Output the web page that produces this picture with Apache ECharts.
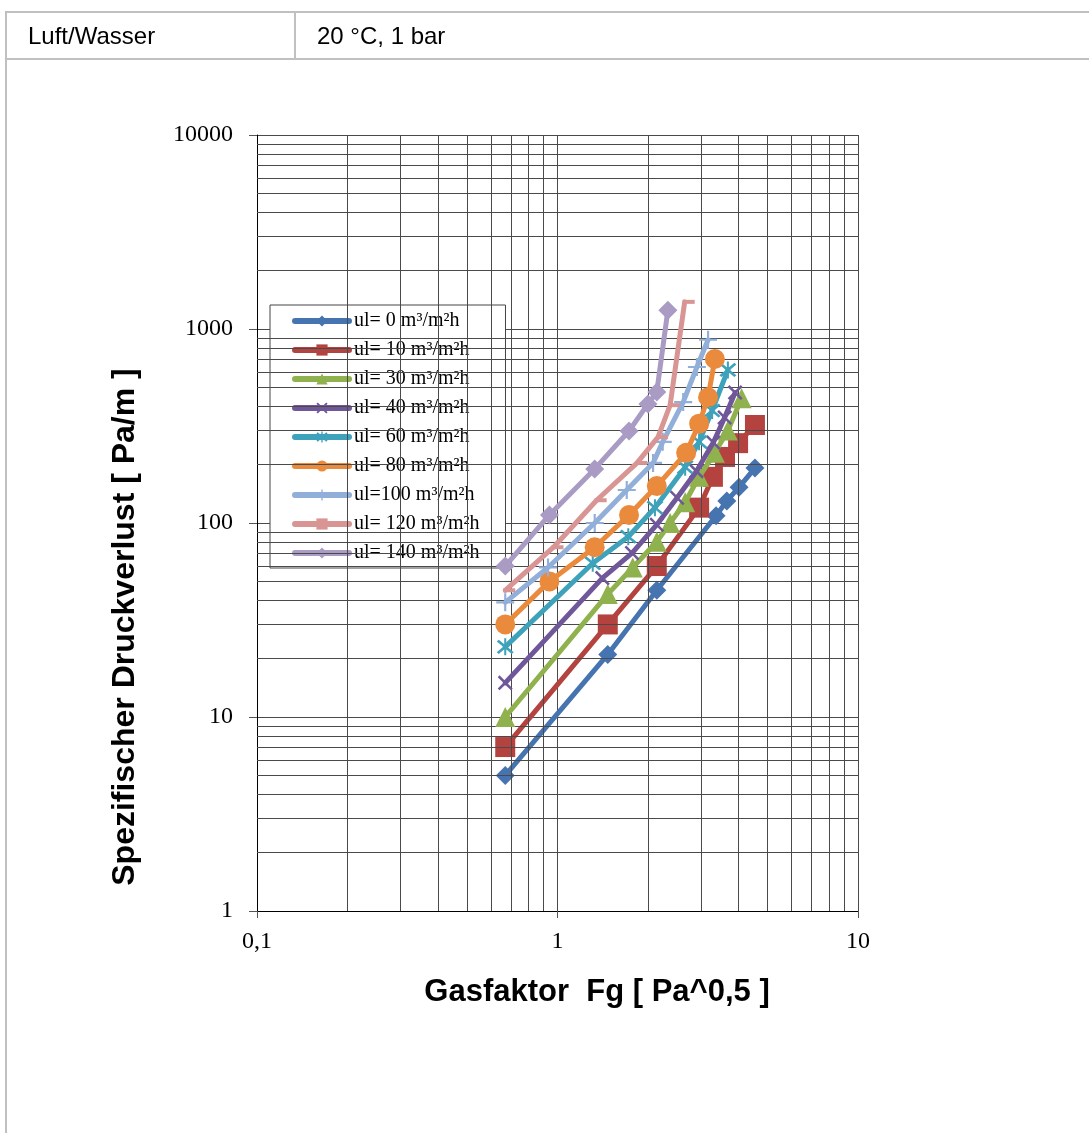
<!DOCTYPE html>
<html>
<head>
<meta charset="utf-8">
<script src="https://cdn.jsdelivr.net/npm/echarts@6/dist/echarts.min.js"></script>
<style>
  html, body { margin:0; padding:0; background:#fff; width:1089px; height:1133px; overflow:hidden; }
  #chart { position:absolute; left:0; top:0; width:1089px; height:1133px; }
  .hl { position:absolute; background:#c0c0c0; }
  .ht { position:absolute; font-family:"Liberation Sans", Arial, sans-serif; font-size:24px; color:#000; line-height:26px; }
</style>
</head>
<body>
<div id="chart"></div>
<div class="hl" style="left:5px; top:11px; width:1084px; height:2px;"></div>
<div class="hl" style="left:5px; top:58px; width:1084px; height:2px;"></div>
<div class="hl" style="left:5px; top:11px; width:2px; height:1122px;"></div>
<div class="hl" style="left:294px; top:11px; width:2px; height:49px;"></div>
<div class="ht" style="left:28px; top:23px;">Luft/Wasser</div>
<div class="ht" style="left:317px; top:23px;">20 °C, 1 bar</div>
<script>
// ---- data ----
const seriesNames = ['ul= 0 m³/m²h', 'ul= 10 m³/m²h', 'ul= 30 m³/m²h', 'ul= 40 m³/m²h', 'ul= 60 m³/m²h',
                     'ul= 80 m³/m²h', 'ul=100 m³/m²h', 'ul= 120 m³/m²h', 'ul= 140 m³/m²h'];
const fg_0   = [0.67, 1.47, 2.14, 3.37, 3.66, 4.02, 4.54];
const dp_0   = [5, 21, 45, 109, 130, 153, 192];
const fg_10  = [0.67, 1.47, 2.14, 2.96, 3.29, 3.61, 3.99, 4.54];
const dp_10  = [7, 30, 60, 120, 173, 219, 258, 320];
const fg_30  = [0.67, 1.47, 1.78, 2.14, 2.37, 2.66, 2.96, 3.34, 3.69, 4.1];
const dp_30  = [10, 43, 59, 80, 100, 128, 173, 230, 300, 440];
const fg_40  = [0.67, 1.41, 1.77, 2.14, 2.5, 2.9, 3.3, 3.6, 3.9];
const dp_40  = [15, 52, 70, 98, 135, 185, 260, 350, 470];
const fg_60  = [0.67, 1.31, 1.72, 2.11, 2.66, 2.96, 3.27, 3.69];
const dp_60  = [23, 62, 85, 120, 194, 262, 380, 615];
const fg_80  = [0.67, 0.94, 1.33, 1.73, 2.14, 2.68, 2.96, 3.17, 3.34];
const dp_80  = [30, 50, 75, 110, 155, 230, 325, 445, 700];
const fg_100 = [0.67, 0.93, 1.33, 1.70, 2.08, 2.24, 2.62, 2.91, 3.17];
const dp_100 = [39, 59, 100, 148, 204, 262, 420, 637, 880];
const fg_120 = [0.67, 0.97, 1.35, 1.84, 2.16, 2.37, 2.65];
const dp_120 = [45, 75, 131, 204, 277, 405, 1380];
const fg_140 = [0.67, 0.94, 1.33, 1.73, 2.0, 2.14, 2.33];
const dp_140 = [60, 110, 190, 298, 411, 474, 1250];

const xMinorTicks = [0.2, 0.3, 0.4, 0.5, 0.6, 0.7, 0.8, 0.9, 2, 3, 4, 5, 6, 7, 8, 9];
const yMinorTicks = [2, 3, 4, 5, 6, 7, 8, 9, 20, 30, 40, 50, 60, 70, 80, 90,
                     200, 300, 400, 500, 600, 700, 800, 900, 2000, 3000, 4000, 5000, 6000, 7000, 8000, 9000];
const xTitle = 'Gasfaktor  Fg [ Pa^0,5 ]';
const yTitle = 'Spezifischer Druckverlust [ Pa/m ]';

// ---- styles ----
const colors = ['#4674b0', '#b4423f', '#8fb14e', '#70579a', '#3fa2bb', '#ea8a3c', '#92afd9', '#d99594', '#a99bc4'];
const P_X = 'path://M1.2,0 L5,3.8 L8.8,0 L10,1.2 L6.2,5 L10,8.8 L8.8,10 L5,6.2 L1.2,10 L0,8.8 L3.8,5 L0,1.2 Z';
const P_AST = 'path://M1.2,0 L5,3.8 L8.8,0 L10,1.2 L6.2,5 L10,8.8 L8.8,10 L5,6.2 L1.2,10 L0,8.8 L3.8,5 L0,1.2 Z M4.4,-1 L5.6,-1 L5.6,11 L4.4,11 Z';
const P_PLUS = 'path://M4.4,0 L5.6,0 L5.6,4.4 L10,4.4 L10,5.6 L5.6,5.6 L5.6,10 L4.4,10 L4.4,5.6 L0,5.6 L0,4.4 L4.4,4.4 Z';
const symbols = ['diamond', 'rect', 'triangle', P_X, P_AST, 'circle', P_PLUS, 'rect', 'diamond'];
const symbolSizes = [19, 20, 20, 15, 17, 20, 18, [12, 4], 19];

const fgs = [fg_0, fg_10, fg_30, fg_40, fg_60, fg_80, fg_100, fg_120, fg_140];
const dps = [dp_0, dp_10, dp_30, dp_40, dp_60, dp_80, dp_100, dp_120, dp_140];

const series = [{
  name: '__grid', type: 'line', data: [], z: 1, silent: true,
  markLine: {
    silent: true, symbol: ['none', 'none'], label: { show: false },
    lineStyle: { color: '#4a4a4a', width: 1, type: 'solid' },
    animation: false,
    data: xMinorTicks.map(v => ({ xAxis: v })).concat(yMinorTicks.map(v => ({ yAxis: v })))
  }
}];
seriesNames.forEach((name, i) => {
  series.push({
    name: name, type: 'line', z: 3 + i,
    data: fgs[i].map((x, k) => [x, dps[i][k]]),
    symbol: symbols[i], symbolSize: symbolSizes[i],
    symbolOffset: i === 7 ? [4, 0] : [0, 0],
    showAllSymbol: true,
    lineStyle: { color: colors[i], width: 5, cap: 'round', join: 'round' },
    itemStyle: { color: colors[i], borderWidth: 0 },
    emphasis: { disabled: true },
    animation: false
  });
});

const chart = echarts.init(document.getElementById('chart'), null, { renderer: 'canvas' });
function fmtNum(v) { return String(Number(v.toPrecision(6))).replace('.', ','); }

chart.setOption({
  backgroundColor: 'transparent',
  animation: false,
  grid: { left: 257, right: 231, top: 135, bottom: 222, containLabel: false },
  xAxis: {
    type: 'log', logBase: 10, min: 0.1, max: 10,
    axisLine: { show: true, onZero: false, lineStyle: { color: '#000', width: 1 } },
    axisTick: { show: true, inside: false, length: 7, lineStyle: { color: '#555' } },
    axisLabel: { margin: 19, color: '#000', fontFamily: 'Liberation Serif', fontSize: 24, formatter: fmtNum },
    splitLine: { show: true, lineStyle: { color: '#4a4a4a', width: 1 } },
    minorTick: { show: false }, minorSplitLine: { show: false }
  },
  yAxis: {
    type: 'log', logBase: 10, min: 1, max: 10000,
    axisLine: { show: true, onZero: false, lineStyle: { color: '#000', width: 1 } },
    axisTick: { show: true, inside: false, length: 8, lineStyle: { color: '#555' } },
    axisLabel: { margin: 24, color: '#000', fontFamily: 'Liberation Serif', fontSize: 24, formatter: v => String(Math.round(v)) },
    splitLine: { show: true, lineStyle: { color: '#4a4a4a', width: 1 } },
    minorTick: { show: false }, minorSplitLine: { show: false }
  },
  legend: {
    data: seriesNames,
    orient: 'vertical', left: 270, top: 305,
    padding: [6, 26, 5, 22],
    itemWidth: 54, itemHeight: 14, itemGap: 9,
    backgroundColor: '#fff', borderColor: '#444', borderWidth: 1,
    lineStyle: { width: 6, cap: 'round' },
    textStyle: { fontFamily: 'Liberation Serif', fontSize: 20, color: '#000' },
    selectedMode: false
  },
  graphic: [
    { type: 'text', x: 597, y: 992,
      style: { text: xTitle, x: 0, y: 0, align: 'center', verticalAlign: 'middle',
      font: 'bold 31px "Liberation Sans", Arial, sans-serif', fill: '#000' } },
    { type: 'text', x: 125, y: 627, rotation: Math.PI / 2,
      style: { text: yTitle, x: 0, y: 0, align: 'center', verticalAlign: 'middle',
      font: 'bold 32px "Liberation Sans", Arial, sans-serif', fill: '#000' } }
  ],
  series: series
});
</script>
</body>
</html>
